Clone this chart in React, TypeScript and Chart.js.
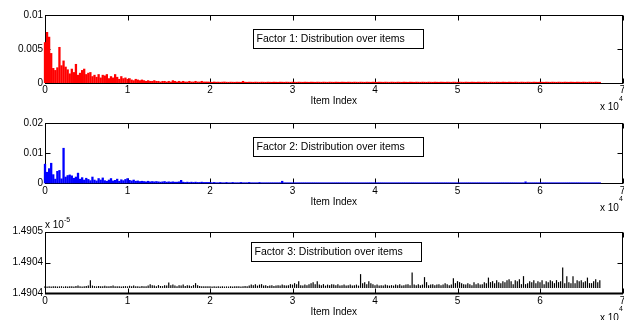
import React, { useEffect, useRef } from 'react';
import { Chart, registerables } from 'chart.js';

Chart.register(...registerables);

// ---- data ----
const ITEM_STEP = 250; // items per sampled bin (bin i covers item index i*ITEM_STEP)
const X_TICKS = [0, 10000, 20000, 30000, 40000, 50000, 60000, 70000];
const X_TICK_LABELS = ['0', '1', '2', '3', '4', '5', '6', '7'];

const F1_Y_TICKS = [0, 0.005, 0.01];
const F1_Y_LABELS = ['0', '0.005', '0.01'];
const F2_Y_TICKS = [0, 0.01, 0.02];
const F2_Y_LABELS = ['0', '0.01', '0.02'];
const F3_Y_TICKS = [1.4904, 1.49044, 1.49048];
const F3_Y_LABELS = ['1.4904', '1.4904', '1.4905'];
const F3_BASE = 1.490407;

const TITLES = [
  'Factor 1: Distribution over items',
  'Factor 2: Distribution over items',
  'Factor 3: Distribution over items',
];

const FACTOR1 = [
  0.0060, 0.0075, 0.0068, 0.0044, 0.0022, 0.0019, 0.0023, 0.0053, 0.0026, 0.0033,
  0.0024, 0.0020, 0.0014, 0.0021, 0.0016, 0.0028, 0.0012, 0.0015, 0.0019, 0.0021,
  0.0013, 0.0015, 0.0016, 0.0010, 0.0012, 0.0009, 0.0013, 0.0008, 0.0012, 0.0011,
  0.0013, 0.0007, 0.0010, 0.0008, 0.0013, 0.0009, 0.0006, 0.0010, 0.0007, 0.0008,
  0.0006, 0.0007, 0.0005, 0.0004, 0.0006, 0.0005, 0.0004, 0.0005, 0.0004, 0.0003,
  0.0004, 0.0003, 0.0003, 0.0004, 0.0003, 0.0003, 0.0002, 0.0003, 0.0003, 0.0002,
  0.0003, 0.0002, 0.0004, 0.0003, 0.0002, 0.0003, 0.0002, 0.0003, 0.0002, 0.0002,
  0.0003, 0.0002, 0.0002, 0.0003, 0.0002, 0.0002, 0.0003, 0.0002, 0.0002, 0.0002,
  0.00018, 0.00016, 0.0002, 0.00017, 0.00018, 0.00016, 0.00018, 0.0002, 0.00017, 0.00016,
  0.00018, 0.00017, 0.00016, 0.00018, 0.00017, 0.00016, 0.0003, 0.00017, 0.00016, 0.00018,
  0.00017, 0.00016, 0.00018, 0.00017, 0.00016, 0.00018, 0.00017, 0.00016, 0.00018, 0.00017,
  0.00016, 0.00018, 0.00017, 0.00016, 0.00018, 0.00017, 0.00016, 0.00018, 0.00017, 0.00016,
  0.00018, 0.00017, 0.00016, 0.00018, 0.00017, 0.00016, 0.00018, 0.00017, 0.00016, 0.00018,
  0.00017, 0.00016, 0.00018, 0.00017, 0.00016, 0.00018, 0.00017, 0.00016, 0.00018, 0.00017,
  0.00016, 0.00018, 0.00017, 0.00016, 0.00018, 0.00017, 0.00016, 0.00018, 0.00017, 0.00016,
  0.00018, 0.00017, 0.00016, 0.00018, 0.00017, 0.00016, 0.00018, 0.00017, 0.00016, 0.00018,
  0.00017, 0.00016, 0.00018, 0.00017, 0.00016, 0.00018, 0.00017, 0.00016, 0.00018, 0.00017,
  0.00016, 0.00018, 0.00017, 0.00016, 0.00018, 0.00017, 0.00016, 0.00018, 0.00017, 0.00016,
  0.00018, 0.00017, 0.00016, 0.00018, 0.00017, 0.00016, 0.00018, 0.00017, 0.00016, 0.00018,
  0.00017, 0.00016, 0.00018, 0.00017, 0.00016, 0.00018, 0.00017, 0.00016, 0.00018, 0.00017,
  0.00016, 0.00018, 0.00017, 0.00016, 0.00018, 0.00017, 0.00016, 0.00018, 0.00017, 0.00016,
  0.00018, 0.00017, 0.00016, 0.00018, 0.00017, 0.00016, 0.00018, 0.00017, 0.00016, 0.00018,
  0.00017, 0.00016, 0.00018, 0.00017, 0.00016, 0.00018, 0.00017, 0.00016, 0.00018, 0.00017,
  0.00016, 0.00018, 0.00017, 0.00016, 0.00018, 0.00017, 0.00016, 0.00018, 0.00017, 0.00016,
  0.00018, 0.00017, 0.00016, 0.00018, 0.00017, 0.00016, 0.00018, 0.00017, 0.00016, 0.00018,
  0.00017, 0.00016, 0.00018, 0.00017, 0.00016, 0.00018, 0.00017, 0.00016, 0.00018, 0.00017,
  0.00016, 0.00018, 0.00017, 0.00016, 0.00018, 0.00017, 0.00016, 0.00018, 0.00017, 0.00016,
];

const FACTOR2 = [
  0.0065, 0.0038, 0.0050, 0.0068, 0.0030, 0.0015, 0.0041, 0.0044, 0.0016, 0.0118,
  0.0022, 0.0027, 0.0029, 0.0026, 0.0018, 0.0022, 0.0035, 0.0015, 0.0020, 0.0012,
  0.0018, 0.0014, 0.0010, 0.0022, 0.0012, 0.0009, 0.0017, 0.0012, 0.0019, 0.0010,
  0.0008, 0.0012, 0.0017, 0.0009, 0.0011, 0.0015, 0.0008, 0.0013, 0.0010, 0.0014,
  0.0017, 0.0011, 0.0009, 0.0012, 0.0008, 0.0009, 0.0007, 0.0008, 0.0007, 0.0006,
  0.0008, 0.0006, 0.0007, 0.0006, 0.0007, 0.0006, 0.0005, 0.0006, 0.0007, 0.0005,
  0.0006, 0.0005, 0.0006, 0.0005, 0.0005, 0.0006, 0.0011, 0.0005, 0.0004, 0.0005,
  0.0004, 0.0005, 0.0004, 0.0005, 0.0004, 0.0004, 0.0005, 0.0004, 0.0004, 0.0004,
  0.0004, 0.0003, 0.0004, 0.0003, 0.0003, 0.0004, 0.0003, 0.0003, 0.0004, 0.0003,
  0.0003, 0.0004, 0.0003, 0.0003, 0.0003, 0.0004, 0.0003, 0.0003, 0.0003, 0.0004,
  0.0003, 0.0003, 0.0003, 0.0003, 0.0004, 0.0003, 0.0003, 0.0003, 0.0003, 0.0003,
  0.0003, 0.0003, 0.0003, 0.0003, 0.0003, 0.0008, 0.0003, 0.0003, 0.0003, 0.0003,
  0.0003, 0.0003, 0.0003, 0.0003, 0.0003, 0.0003, 0.0003, 0.0003, 0.0003, 0.0003,
  0.0003, 0.0003, 0.0003, 0.0003, 0.0003, 0.0003, 0.0003, 0.0003, 0.0003, 0.0003,
  0.0003, 0.0003, 0.0003, 0.0003, 0.0003, 0.0003, 0.0003, 0.0003, 0.0003, 0.0003,
  0.0003, 0.0003, 0.0003, 0.0003, 0.0003, 0.0003, 0.0003, 0.0003, 0.0003, 0.0003,
  0.0003, 0.0003, 0.0003, 0.0003, 0.0003, 0.0003, 0.0003, 0.0003, 0.0003, 0.0003,
  0.0003, 0.0003, 0.0003, 0.0003, 0.0003, 0.0003, 0.0003, 0.0003, 0.0003, 0.0003,
  0.0003, 0.0003, 0.0003, 0.0003, 0.0003, 0.0003, 0.0003, 0.0003, 0.0003, 0.0003,
  0.0003, 0.0003, 0.0003, 0.0003, 0.0003, 0.0003, 0.0003, 0.0003, 0.0003, 0.0003,
  0.0003, 0.0003, 0.0003, 0.0003, 0.0003, 0.0003, 0.0003, 0.0003, 0.0003, 0.0003,
  0.0003, 0.0003, 0.0003, 0.0003, 0.0003, 0.0003, 0.0003, 0.0003, 0.0003, 0.0003,
  0.0003, 0.0003, 0.0003, 0.0003, 0.0003, 0.0003, 0.0003, 0.0003, 0.0003, 0.0003,
  0.0003, 0.0003, 0.0003, 0.0006, 0.0003, 0.0003, 0.0003, 0.0003, 0.0003, 0.0003,
  0.0003, 0.0003, 0.0003, 0.0003, 0.0003, 0.0003, 0.0003, 0.0003, 0.0003, 0.0003,
  0.0003, 0.0003, 0.0003, 0.0003, 0.0003, 0.0003, 0.0003, 0.0003, 0.0003, 0.0003,
  0.0003, 0.0003, 0.0003, 0.0003, 0.0003, 0.0003, 0.0003, 0.0003, 0.0003, 0.0003,
];

// values in units of 1e-5
const FACTOR3 = [
  1.4904090, 1.4904088, 1.4904092, 1.4904087, 1.4904090, 1.4904093, 1.4904088, 1.4904090, 1.4904092, 1.4904087,
  1.4904090, 1.4904088, 1.4904093, 1.4904090, 1.4904088, 1.4904095, 1.4904100, 1.4904090, 1.4904088, 1.4904092,
  1.4904095, 1.4904100, 1.4904171, 1.4904100, 1.4904093, 1.4904090, 1.4904095, 1.4904093, 1.4904090, 1.4904098,
  1.4904093, 1.4904090, 1.4904095, 1.4904100, 1.4904093, 1.4904090, 1.4904092, 1.4904088, 1.4904090, 1.4904093,
  1.4904090, 1.4904098, 1.4904093, 1.4904100, 1.4904090, 1.4904093, 1.4904088, 1.4904095, 1.4904090, 1.4904093,
  1.4904100, 1.4904119, 1.4904106, 1.4904100, 1.4904093, 1.4904106, 1.4904095, 1.4904093, 1.4904106, 1.4904100,
  1.4904140, 1.4904106, 1.4904113, 1.4904100, 1.4904093, 1.4904106, 1.4904100, 1.4904113, 1.4904095, 1.4904106,
  1.4904100, 1.4904093, 1.4904106, 1.4904132, 1.4904106, 1.4904095, 1.4904093, 1.4904090, 1.4904093, 1.4904090,
  1.4904090, 1.4904088, 1.4904090, 1.4904088, 1.4904090, 1.4904088, 1.4904092, 1.4904088, 1.4904090, 1.4904088,
  1.4904090, 1.4904088, 1.4904090, 1.4904093, 1.4904090, 1.4904088, 1.4904093, 1.4904095, 1.4904093, 1.4904100,
  1.4904113, 1.4904106, 1.4904119, 1.4904100, 1.4904113, 1.4904119, 1.4904100, 1.4904106, 1.4904095, 1.4904100,
  1.4904106, 1.4904095, 1.4904100, 1.4904106, 1.4904100, 1.4904113, 1.4904106, 1.4904100, 1.4904106, 1.4904119,
  1.4904113, 1.4904132, 1.4904119, 1.4904158, 1.4904106, 1.4904100, 1.4904113, 1.4904106, 1.4904119, 1.4904132,
  1.4904145, 1.4904119, 1.4904158, 1.4904113, 1.4904106, 1.4904119, 1.4904100, 1.4904113, 1.4904106, 1.4904119,
  1.4904113, 1.4904106, 1.4904119, 1.4904100, 1.4904106, 1.4904113, 1.4904100, 1.4904106, 1.4904113, 1.4904100,
  1.4904106, 1.4904113, 1.4904100, 1.4904249, 1.4904132, 1.4904145, 1.4904119, 1.4904158, 1.4904132, 1.4904119,
  1.4904106, 1.4904113, 1.4904100, 1.4904106, 1.4904100, 1.4904113, 1.4904106, 1.4904100, 1.4904106, 1.4904100,
  1.4904113, 1.4904106, 1.4904119, 1.4904100, 1.4904106, 1.4904113, 1.4904119, 1.4904106, 1.4904269, 1.4904113,
  1.4904106, 1.4904119, 1.4904106, 1.4904113, 1.4904210, 1.4904145, 1.4904106, 1.4904113, 1.4904119, 1.4904106,
  1.4904113, 1.4904119, 1.4904106, 1.4904113, 1.4904132, 1.4904119, 1.4904106, 1.4904113, 1.4904197, 1.4904132,
  1.4904158, 1.4904145, 1.4904132, 1.4904119, 1.4904113, 1.4904132, 1.4904119, 1.4904106, 1.4904145, 1.4904119,
  1.4904132, 1.4904113, 1.4904119, 1.4904145, 1.4904132, 1.4904204, 1.4904145, 1.4904158, 1.4904132, 1.4904171,
  1.4904145, 1.4904132, 1.4904158, 1.4904145, 1.4904171, 1.4904184, 1.4904158, 1.4904119, 1.4904171, 1.4904158,
  1.4904184, 1.4904119, 1.4904223, 1.4904119, 1.4904132, 1.4904158, 1.4904145, 1.4904171, 1.4904132, 1.4904158,
  1.4904145, 1.4904171, 1.4904119, 1.4904158, 1.4904145, 1.4904171, 1.4904158, 1.4904132, 1.4904171, 1.4904145,
  1.4904158, 1.4904334, 1.4904132, 1.4904223, 1.4904145, 1.4904132, 1.4904223, 1.4904132, 1.4904171, 1.4904158,
  1.4904171, 1.4904145, 1.4904158, 1.4904204, 1.4904132, 1.4904132, 1.4904158, 1.4904184, 1.4904145, 1.4904171,
];

// ---- chart construction ----
const FONT = "'Liberation Sans', Arial, Helvetica, sans-serif";

type Spec = {
  values: number[];
  base?: number;
  color: string;
  thickness: number;
  yTicks: number[];
  yLabels: string[];
  title: string;
  canvasTop: number;
  height: number;
  plotTop: number;
  plotBottom: number;
  boxDx: number;
  boxDy: number;
  bottomWidth: number;
  yExp?: string;
};

const SPECS: Spec[] = [
  { values: FACTOR1, color: '#ff0000', thickness: 2.3, yTicks: F1_Y_TICKS, yLabels: F1_Y_LABELS, title: TITLES[0],
    canvasTop: 0, height: 118, plotTop: 15, plotBottom: 83, boxDx: 208, boxDy: 14.3, bottomWidth: 1 },
  { values: FACTOR2, color: '#0000ff', thickness: 2.3, yTicks: F2_Y_TICKS, yLabels: F2_Y_LABELS, title: TITLES[1],
    canvasTop: 106, height: 116, plotTop: 123.3, plotBottom: 183.3, boxDx: 208.3, boxDy: 13.4, bottomWidth: 1 },
  { values: FACTOR3, base: F3_BASE, color: '#000000', thickness: 1.2, yTicks: F3_Y_TICKS, yLabels: F3_Y_LABELS, title: TITLES[2],
    canvasTop: 212, height: 108, plotTop: 231.7, plotBottom: 293.3, boxDx: 205.7, boxDy: 10, bottomWidth: 2, yExp: '-5' },
];

function makePlugin(spec: Spec) {
  return {
    id: 'matlabFrame',
    beforeDatasetsDraw(chart: any) {
      const { ctx, chartArea: a, scales } = chart;
      ctx.save();
      ctx.strokeStyle = '#000';
      ctx.lineWidth = 1;
      const L = Math.round(a.left) + 0.5;
      const R = Math.round(a.right) - 0.5;
      const T = Math.round(a.top) + 0.5;
      const B = Math.round(a.bottom) + 0.5;
      ctx.strokeRect(L, T, R - L, B - T);
      if (spec.bottomWidth > 1) {
        ctx.beginPath();
        ctx.lineWidth = spec.bottomWidth;
        ctx.moveTo(L - 0.5, Math.round(a.bottom) + spec.bottomWidth / 2 - 0.5);
        ctx.lineTo(R + 0.5, Math.round(a.bottom) + spec.bottomWidth / 2 - 0.5);
        ctx.stroke();
        ctx.lineWidth = 1;
      }
      ctx.beginPath();
      for (const v of X_TICKS) {
        const px = Math.round(scales.x.getPixelForValue(v)) + 0.5;
        ctx.moveTo(px, B); ctx.lineTo(px, B - 5);
        ctx.moveTo(px, T); ctx.lineTo(px, T + 5);
      }
      for (const v of spec.yTicks) {
        const py = Math.round(scales.y.getPixelForValue(v)) + 0.5;
        ctx.moveTo(L, py); ctx.lineTo(L + 5, py);
        ctx.moveTo(R, py); ctx.lineTo(R - 5, py);
      }
      ctx.stroke();
      ctx.restore();
    },
    afterDraw(chart: any) {
      const { ctx, chartArea: a } = chart;
      ctx.save();
      // text box
      const bx = Math.round(a.left + spec.boxDx) + 0.5;
      const by = Math.round(a.top + spec.boxDy) + 0.5;
      const bw = 170;
      const bh = 19;
      ctx.fillStyle = '#fff';
      ctx.fillRect(bx, by, bw, bh);
      ctx.strokeStyle = '#000';
      ctx.lineWidth = 1;
      ctx.strokeRect(bx, by, bw, bh);
      ctx.fillStyle = '#000';
      ctx.font = `10.5px ${FONT}`;
      ctx.textBaseline = 'middle';
      ctx.textAlign = 'left';
      ctx.fillText(spec.title, bx + 3, by + bh / 2 + 0.5);
      // x exponent
      ctx.font = `10px ${FONT}`;
      ctx.fillText('x 10', a.right - 22.5, a.bottom + 24.5);
      ctx.font = `7px ${FONT}`;
      ctx.fillText('4', a.right - 3.5, a.bottom + 16);
      // y exponent
      if (spec.yExp) {
        ctx.font = `10px ${FONT}`;
        ctx.fillText('x 10', a.left, a.top - 6);
        ctx.font = `7px ${FONT}`;
        ctx.fillText(spec.yExp, a.left + 19, a.top - 11.5);
      }
      ctx.restore();
    },
  };
}

function makeConfig(spec: Spec): any {
  const data = spec.values.map((v, i) => ({
    x: i * ITEM_STEP,
    y: spec.base !== undefined ? [spec.base, v] : v,
  }));
  const xAxisHeight = spec.canvasTop + spec.height - spec.plotBottom;
  const titlePadBottom = spec.canvasTop + spec.height - 6 - (spec.plotBottom + 18.5);
  return {
    type: 'bar',
    data: {
      datasets: [{
        data,
        backgroundColor: spec.color,
        borderWidth: 0,
        barThickness: spec.thickness,
        inflateAmount: 0,
        clip: false,
      }],
    },
    options: {
      responsive: false,
      animation: false,
      devicePixelRatio: 1,
      events: [],
      layout: {
        autoPadding: false,
        padding: { top: spec.plotTop - spec.canvasTop, left: 0, right: 1.5, bottom: 0 },
      },
      plugins: { legend: { display: false }, tooltip: { enabled: false } },
      scales: {
        x: {
          type: 'linear',
          min: 0,
          max: 70000,
          offset: false,
          grid: { display: false, drawTicks: false },
          border: { display: false },
          afterBuildTicks: (s: any) => { s.ticks = X_TICKS.map((v) => ({ value: v })); },
          afterFit: (s: any) => {
            s.height = xAxisHeight;
            s.paddingLeft = 0; s.paddingRight = 0; s.paddingTop = 0; s.paddingBottom = 0;
          },
          ticks: {
            autoSkip: false,
            maxRotation: 0,
            minRotation: 0,
            padding: 1.5,
            color: '#000',
            font: { size: 10, family: FONT },
            callback: (_v: any, idx: number) => X_TICK_LABELS[idx],
          },
          title: {
            display: true,
            text: 'Item Index',
            color: '#000',
            font: { size: 10, family: FONT },
            padding: { top: 0, bottom: titlePadBottom },
          },
        },
        y: {
          type: 'linear',
          min: spec.yTicks[0],
          max: spec.yTicks[spec.yTicks.length - 1],
          grid: { display: false, drawTicks: false },
          border: { display: false },
          afterBuildTicks: (s: any) => { s.ticks = spec.yTicks.map((v) => ({ value: v })); },
          afterFit: (s: any) => {
            s.width = 45;
            s.paddingLeft = 0; s.paddingRight = 0; s.paddingTop = 0; s.paddingBottom = 0;
          },
          ticks: {
            padding: 2,
            color: '#000',
            font: { size: 10, family: FONT },
            callback: (_v: any, idx: number) => spec.yLabels[idx],
          },
        },
      },
    },
    plugins: [makePlugin(spec)],
  };
}

function Panel({ spec }: { spec: Spec }) {
  const ref = useRef<HTMLCanvasElement | null>(null);
  useEffect(() => {
    if (!ref.current) return;
    const chart = new Chart(ref.current, makeConfig(spec));
    return () => chart.destroy();
  }, [spec]);
  return (
    <canvas
      ref={ref}
      width={624}
      height={spec.height}
      style={{ position: 'absolute', left: 0, top: spec.canvasTop, width: 624, height: spec.height, display: 'block' }}
    />
  );
}

export default function App() {
  return (
    <div style={{ position: 'fixed', left: 0, top: 0, width: 624, height: 320, background: '#fff', overflow: 'hidden' }}>
      {SPECS.map((s, i) => (
        <Panel key={i} spec={s} />
      ))}
    </div>
  );
}
